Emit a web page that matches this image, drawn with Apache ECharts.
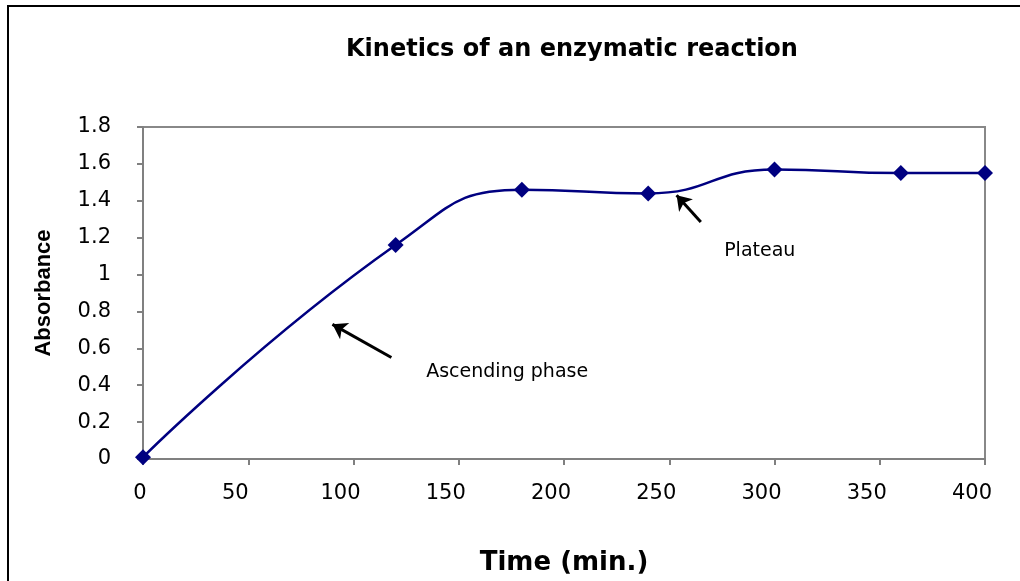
<!DOCTYPE html>
<html>
<head>
<meta charset="utf-8">
<script src="https://cdn.jsdelivr.net/npm/echarts@6/dist/echarts.min.js"></script>
<style>
html, body { margin: 0; padding: 0; background: #fff; }
#chart { width: 1020px; height: 581px; }
</style>
</head>
<body>
<div id="chart"></div>
<script>
// time (min.) and absorbance
var timeMin = [0, 120, 180, 240, 300, 360, 400];
var absorbance = [0.01, 1.16, 1.46, 1.44, 1.57, 1.55, 1.55];
var xTicks = [0, 50, 100, 150, 200, 250, 300, 350, 400];
var yTicks = [0, 0.2, 0.4, 0.6, 0.8, 1, 1.2, 1.4, 1.6, 1.8];

// annotations: arrow [from, to] and label positions in data units
var arrowAscending = [[118, 0.55], [90, 0.73]];
var arrowPlateau = [[265, 1.285], [253.5, 1.43]];
var noteAscending = [173, 0.47];
var notePlateau = [293, 1.13];

var points = [];
for (var i = 0; i < timeMin.length; i++) {
	points.push([timeMin[i], absorbance[i]]);
}

var chart = echarts.init(document.getElementById('chart'));

var option = {
	backgroundColor: '#fff',
	animation: false,
	title: {
		text: 'Kinetics of an enzymatic reaction',
		left: 341,
		top: 33,
		textStyle: { fontFamily: 'DejaVu Sans', fontWeight: 'bold', fontSize: 24, color: '#000' }
	},
	grid: {
		left: 143, right: 35, top: 127, bottom: 122,
		show: true, borderColor: '#888', borderWidth: 2, backgroundColor: 'transparent'
	},
	xAxis: {
		type: 'value',
		min: 0, max: 400, interval: 50,
		name: 'Time (min.)',
		nameLocation: 'middle',
		nameGap: 91,
		nameTextStyle: { fontFamily: 'DejaVu Sans', fontWeight: 'bold', fontSize: 26, color: '#000' },
		axisLine: { lineStyle: { color: '#808080', width: 2 } },
		axisTick: { show: true, length: 6, lineStyle: { color: '#808080', width: 2 } },
		splitLine: { show: false },
		axisLabel: {
			margin: 24,
			formatter: function (v) {
				return v === 0 ? '{z|0}' : '{a|' + v + '}';
			},
			rich: {
				z: { fontFamily: 'DejaVu Sans', fontSize: 21, color: '#000', padding: [0, 6, 0, 0] },
				a: { fontFamily: 'DejaVu Sans', fontSize: 21, color: '#000', padding: [0, 26, 0, 0] }
			}
		}
	},
	yAxis: {
		type: 'value',
		min: 0, max: 1.8, interval: 0.2,
		name: 'Absorbance',
		nameLocation: 'middle',
		nameGap: 88,
		nameTextStyle: { fontFamily: 'Liberation Sans', fontWeight: 'bold', fontSize: 22, color: '#000' },
		axisLine: { show: true, lineStyle: { color: '#808080', width: 2 } },
		axisTick: { show: true, length: 6, lineStyle: { color: '#808080', width: 2 } },
		splitLine: { show: false },
		axisLabel: {
			margin: 32,
			fontFamily: 'DejaVu Sans', fontSize: 21, color: '#000',
			formatter: function (v) { return String(Math.round(v * 10) / 10); }
		}
	},
	series: [{
		type: 'line',
		data: points,
		smooth: 0.5,
		symbol: 'diamond',
		symbolSize: 16,
		lineStyle: { color: '#000080', width: 2.5 },
		itemStyle: { color: '#000080' },
		markLine: {
			silent: true,
			symbol: ['none', 'arrow'],
			symbolSize: 14,
			label: { show: false },
			lineStyle: { color: '#000', width: 3, type: 'solid' },
			data: [
				[{ coord: arrowAscending[0] }, { coord: arrowAscending[1] }],
				[{ coord: arrowPlateau[0] }, { coord: arrowPlateau[1] }]
			]
		},
		markPoint: {
			silent: true,
			symbol: 'circle',
			symbolSize: 0,
			label: {
				show: true,
				position: 'inside',
				fontFamily: 'DejaVu Sans', fontSize: 19, color: '#000',
				formatter: function (p) { return p.name; }
			},
			data: [
				{ name: 'Ascending phase', coord: noteAscending },
				{ name: 'Plateau', coord: notePlateau }
			]
		}
	}],
	graphic: [{
		type: 'polyline',
		shape: { points: [[8, 581], [8, 6], [1020, 6]] },
		style: { stroke: '#000', lineWidth: 2, fill: null }
	}]
};

chart.setOption(option);
</script>
</body>
</html>
